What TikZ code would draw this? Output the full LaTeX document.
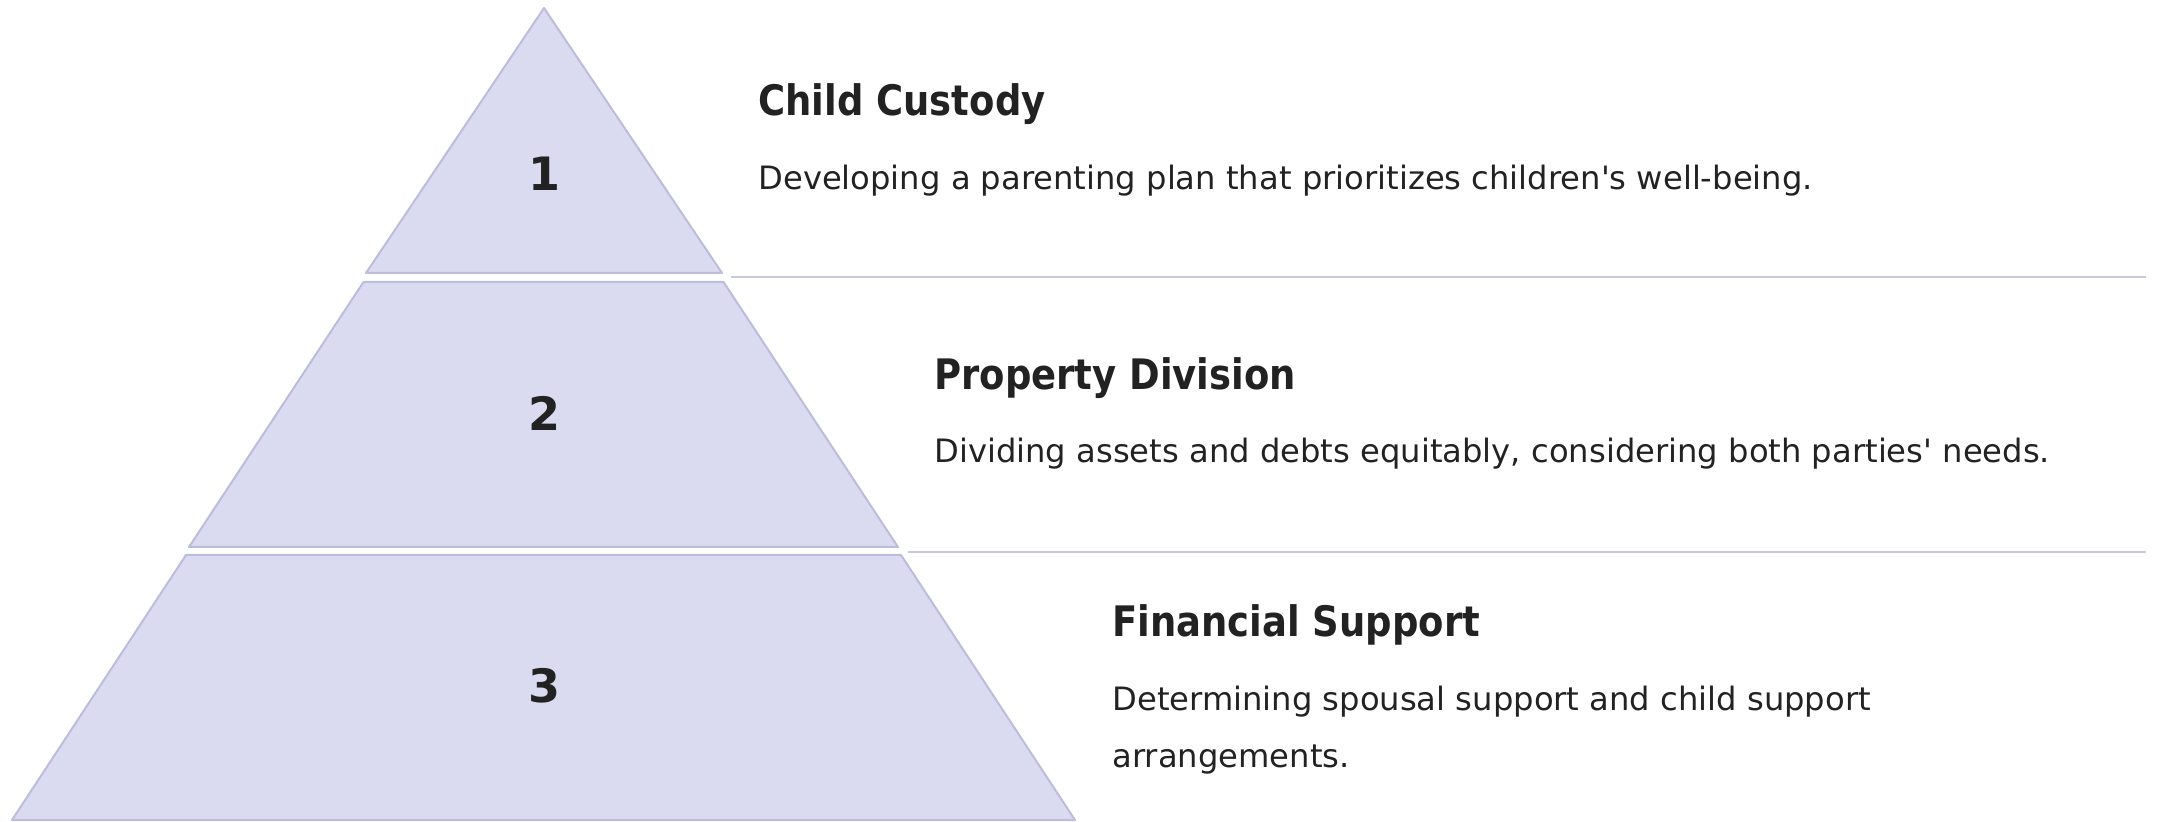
\documentclass[tikz,border=0pt]{standalone}
\usepackage{fontspec}
\setmainfont{DejaVu Sans}
\newfontfamily\plainfont{DejaVu Sans}
\newfontfamily\ttlfont{DejaVu Sans}[FakeStretch=0.88]
\definecolor{tierfill}{HTML}{DADAF0}
\definecolor{tierdraw}{HTML}{BDBDDB}
\definecolor{rulecol}{HTML}{C9C9E3}
\definecolor{ink}{HTML}{222222}
\begin{document}
\begin{tikzpicture}[x=0.5pt,y=-0.5pt,
  tier/.style={fill=tierfill,draw=tierdraw,line width=1pt,line join=round},
  divider/.style={draw=rulecol,line width=1pt},
  num/.style={text=ink,font=\plainfont\fontsize{23}{27}\selectfont\bfseries,inner sep=0pt},
  ttl/.style={text=ink,font=\ttlfont\fontsize{21}{25}\selectfont\bfseries,inner sep=0pt,anchor=base west},
  desc/.style={text=ink,font=\plainfont\fontsize{16.1}{29}\selectfont,inner sep=0pt,anchor=base west,align=left}]
\useasboundingbox (0,0) rectangle (2161,822);
% tiers
\draw[tier] (544,8) -- (722,273) -- (366,273) -- cycle;
\draw[tier] (363.5,282) -- (723.5,282) -- (898,547) -- (189,547) -- cycle;
\draw[tier] (186,555) -- (901,555) -- (1075,820) -- (12,820) -- cycle;
% numbers
\node[num] (n1) at (544,174) {1};
\node[num] (n2) at (544,413.5) {2};
\node[num] (n3) at (544,686) {3};
% dividers
\coordinate (d1a) at (731,277.5);
\coordinate (d1b) at (2146,277.5);
\coordinate (d2a) at (908,552);
\coordinate (d2b) at (2146,552);
\draw[divider] (d1a) -- (d1b);
\draw[divider] (d2a) -- (d2b);
% texts
\node[ttl] (t1) at (758,116) {Child Custody};
\node[desc] (s1) at (758,189.5) {Developing a parenting plan that prioritizes children's well-being.};
\node[ttl] (t2) at (934,390) {Property Division};
\node[desc] (s2) at (934,463) {Dividing assets and debts equitably, considering both parties' needs.};
\node[ttl] (t3) at (1112,636) {Financial Support};
\node[desc] (s3) at (1112,710) {Determining spousal support and child support};
\node[desc] (s3b) at (1112,767) {arrangements.};
\end{tikzpicture}
\end{document}
